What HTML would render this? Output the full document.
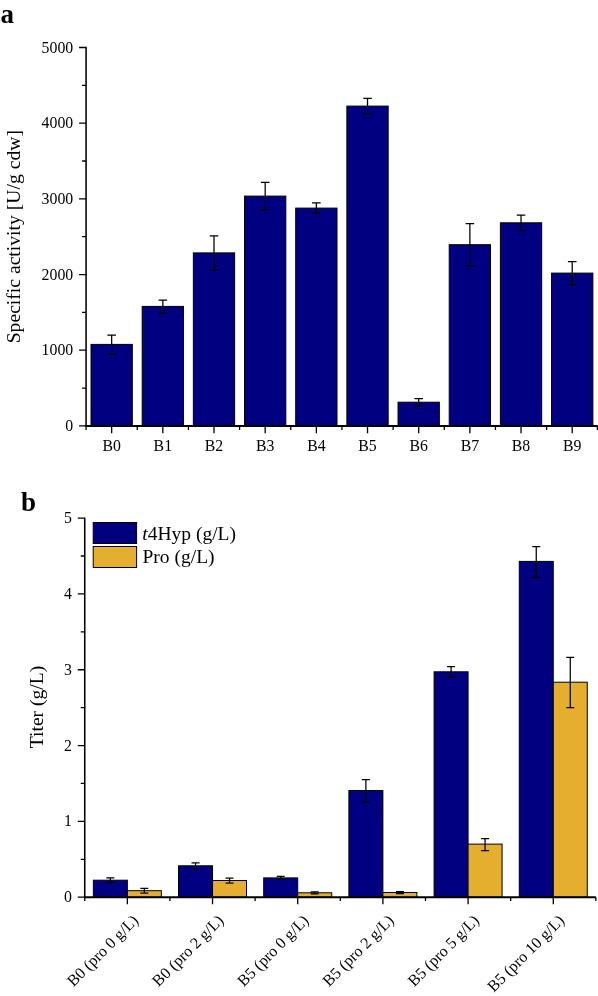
<!DOCTYPE html><html><head><meta charset="utf-8"><style>
html,body{margin:0;padding:0;background:#fff;}svg{display:block;will-change:transform;}
text{font-family:"Liberation Serif",serif;fill:#000;}
</style></head><body>
<svg width="598" height="996" viewBox="0 0 598 996">
<rect width="598" height="996" fill="#fff"/>
<text x="0.6" y="23.4" font-size="27" font-weight="bold">a</text>
<rect x="91.01" y="344.40" width="41.30" height="81.50" fill="#000080" stroke="#000" stroke-width="1.0"/>
<path d="M111.66 335.00V354.30M107.36 335.00h8.6M107.36 354.30h8.6" stroke="#000" stroke-width="1.25" fill="none"/>
<rect x="142.18" y="306.40" width="41.30" height="119.50" fill="#000080" stroke="#000" stroke-width="1.0"/>
<path d="M162.83 300.00V313.10M158.53 300.00h8.6M158.53 313.10h8.6" stroke="#000" stroke-width="1.25" fill="none"/>
<rect x="193.35" y="252.90" width="41.30" height="173.00" fill="#000080" stroke="#000" stroke-width="1.0"/>
<path d="M214.00 235.80V270.30M209.70 235.80h8.6M209.70 270.30h8.6" stroke="#000" stroke-width="1.25" fill="none"/>
<rect x="244.53" y="196.10" width="41.30" height="229.80" fill="#000080" stroke="#000" stroke-width="1.0"/>
<path d="M265.18 182.30V209.80M260.88 182.30h8.6M260.88 209.80h8.6" stroke="#000" stroke-width="1.25" fill="none"/>
<rect x="295.70" y="208.10" width="41.30" height="217.80" fill="#000080" stroke="#000" stroke-width="1.0"/>
<path d="M316.35 202.80V213.20M312.05 202.80h8.6M312.05 213.20h8.6" stroke="#000" stroke-width="1.25" fill="none"/>
<rect x="346.87" y="106.10" width="41.30" height="319.80" fill="#000080" stroke="#000" stroke-width="1.0"/>
<path d="M367.52 98.40V114.40M363.22 98.40h8.6M363.22 114.40h8.6" stroke="#000" stroke-width="1.25" fill="none"/>
<rect x="398.04" y="402.20" width="41.30" height="23.70" fill="#000080" stroke="#000" stroke-width="1.0"/>
<path d="M418.69 398.50V406.20M414.39 398.50h8.6M414.39 406.20h8.6" stroke="#000" stroke-width="1.25" fill="none"/>
<rect x="449.22" y="244.70" width="41.30" height="181.20" fill="#000080" stroke="#000" stroke-width="1.0"/>
<path d="M469.87 223.50V266.20M465.57 223.50h8.6M465.57 266.20h8.6" stroke="#000" stroke-width="1.25" fill="none"/>
<rect x="500.39" y="222.80" width="41.30" height="203.10" fill="#000080" stroke="#000" stroke-width="1.0"/>
<path d="M521.04 215.20V230.50M516.74 215.20h8.6M516.74 230.50h8.6" stroke="#000" stroke-width="1.25" fill="none"/>
<rect x="551.56" y="273.10" width="41.30" height="152.80" fill="#000080" stroke="#000" stroke-width="1.0"/>
<path d="M572.21 261.50V284.80M567.91 261.50h8.6M567.91 284.80h8.6" stroke="#000" stroke-width="1.25" fill="none"/>
<path d="M86.07 46.8V425.9" stroke="#000" stroke-width="1.55" fill="none"/>
<path d="M85.36999999999999 425.9H597.8" stroke="#000" stroke-width="2.0" fill="none"/>
<path d="M79.07 425.90H86.07M82.07 388.06H86.07M79.07 350.22H86.07M82.07 312.38H86.07M79.07 274.54H86.07M82.07 236.70H86.07M79.07 198.86H86.07M82.07 161.02H86.07M79.07 123.18H86.07M82.07 85.34H86.07M79.07 47.50H86.07" stroke="#000" stroke-width="1.3" fill="none"/>
<text x="73.2" y="431.00" font-size="15.8" text-anchor="end">0</text>
<text x="73.2" y="355.32" font-size="15.8" text-anchor="end">1000</text>
<text x="73.2" y="279.64" font-size="15.8" text-anchor="end">2000</text>
<text x="73.2" y="203.96" font-size="15.8" text-anchor="end">3000</text>
<text x="73.2" y="128.28" font-size="15.8" text-anchor="end">4000</text>
<text x="73.2" y="52.60" font-size="15.8" text-anchor="end">5000</text>
<path d="M111.66 425.9V433.29999999999995M162.83 425.9V433.29999999999995M214.00 425.9V433.29999999999995M265.18 425.9V433.29999999999995M316.35 425.9V433.29999999999995M367.52 425.9V433.29999999999995M418.69 425.9V433.29999999999995M469.87 425.9V433.29999999999995M521.04 425.9V433.29999999999995M572.21 425.9V433.29999999999995M86.07 425.9V429.9M137.24 425.9V429.9M188.42 425.9V429.9M239.59 425.9V429.9M290.76 425.9V429.9M341.93 425.9V429.9M393.11 425.9V429.9M444.28 425.9V429.9M495.45 425.9V429.9M546.63 425.9V429.9M597.40 425.9V429.9" stroke="#000" stroke-width="1.3" fill="none"/>
<text x="111.66" y="450.6" font-size="15.8" text-anchor="middle">B0</text>
<text x="162.83" y="450.6" font-size="15.8" text-anchor="middle">B1</text>
<text x="214.00" y="450.6" font-size="15.8" text-anchor="middle">B2</text>
<text x="265.18" y="450.6" font-size="15.8" text-anchor="middle">B3</text>
<text x="316.35" y="450.6" font-size="15.8" text-anchor="middle">B4</text>
<text x="367.52" y="450.6" font-size="15.8" text-anchor="middle">B5</text>
<text x="418.69" y="450.6" font-size="15.8" text-anchor="middle">B6</text>
<text x="469.87" y="450.6" font-size="15.8" text-anchor="middle">B7</text>
<text x="521.04" y="450.6" font-size="15.8" text-anchor="middle">B8</text>
<text x="572.21" y="450.6" font-size="15.8" text-anchor="middle">B9</text>
<text transform="translate(19.9 236.7) rotate(-90)" font-size="19.65" text-anchor="middle">Specific activity [U/g cdw]</text>
<text x="21" y="510.5" font-size="27" font-weight="bold">b</text>
<rect x="93.34" y="880.20" width="34.00" height="17.00" fill="#000080" stroke="#000" stroke-width="1.0"/>
<rect x="127.34" y="890.70" width="34.00" height="6.50" fill="#E6AE2E" stroke="#000" stroke-width="1.0"/>
<path d="M110.34 877.90V882.40M106.34 877.90h8M106.34 882.40h8" stroke="#000" stroke-width="1.25" fill="none"/>
<path d="M144.34 888.30V893.10M140.34 888.30h8M140.34 893.10h8" stroke="#000" stroke-width="1.25" fill="none"/>
<rect x="178.53" y="865.80" width="34.00" height="31.40" fill="#000080" stroke="#000" stroke-width="1.0"/>
<rect x="212.53" y="880.50" width="34.00" height="16.70" fill="#E6AE2E" stroke="#000" stroke-width="1.0"/>
<path d="M195.53 862.80V868.80M191.53 862.80h8M191.53 868.80h8" stroke="#000" stroke-width="1.25" fill="none"/>
<path d="M229.53 878.00V883.00M225.53 878.00h8M225.53 883.00h8" stroke="#000" stroke-width="1.25" fill="none"/>
<rect x="263.71" y="877.90" width="34.00" height="19.30" fill="#000080" stroke="#000" stroke-width="1.0"/>
<rect x="297.71" y="892.80" width="34.00" height="4.40" fill="#E6AE2E" stroke="#000" stroke-width="1.0"/>
<path d="M280.71 876.30V879.40M276.71 876.30h8M276.71 879.40h8" stroke="#000" stroke-width="1.25" fill="none"/>
<path d="M314.71 891.90V893.90M310.71 891.90h8M310.71 893.90h8" stroke="#000" stroke-width="1.25" fill="none"/>
<rect x="348.89" y="790.50" width="34.00" height="106.70" fill="#000080" stroke="#000" stroke-width="1.0"/>
<rect x="382.89" y="892.50" width="34.00" height="4.70" fill="#E6AE2E" stroke="#000" stroke-width="1.0"/>
<path d="M365.89 779.50V802.20M361.89 779.50h8M361.89 802.20h8" stroke="#000" stroke-width="1.25" fill="none"/>
<path d="M399.89 891.50V893.50M395.89 891.50h8M395.89 893.50h8" stroke="#000" stroke-width="1.25" fill="none"/>
<rect x="434.08" y="671.80" width="34.00" height="225.40" fill="#000080" stroke="#000" stroke-width="1.0"/>
<rect x="468.08" y="844.10" width="34.00" height="53.10" fill="#E6AE2E" stroke="#000" stroke-width="1.0"/>
<path d="M451.08 666.60V677.40M447.08 666.60h8M447.08 677.40h8" stroke="#000" stroke-width="1.25" fill="none"/>
<path d="M485.08 838.50V850.50M481.08 838.50h8M481.08 850.50h8" stroke="#000" stroke-width="1.25" fill="none"/>
<rect x="519.26" y="561.40" width="34.00" height="335.80" fill="#000080" stroke="#000" stroke-width="1.0"/>
<rect x="553.26" y="682.20" width="34.00" height="215.00" fill="#E6AE2E" stroke="#000" stroke-width="1.0"/>
<path d="M536.26 546.50V577.40M532.26 546.50h8M532.26 577.40h8" stroke="#000" stroke-width="1.25" fill="none"/>
<path d="M570.26 657.30V707.60M566.26 657.30h8M566.26 707.60h8" stroke="#000" stroke-width="1.25" fill="none"/>
<path d="M84.75 517.4V897.2" stroke="#000" stroke-width="1.55" fill="none"/>
<path d="M84.05 897.2H595.85" stroke="#000" stroke-width="2.0" fill="none"/>
<path d="M77.75 897.20H84.75M80.75 859.29H84.75M77.75 821.38H84.75M80.75 783.47H84.75M77.75 745.56H84.75M80.75 707.65H84.75M77.75 669.74H84.75M80.75 631.83H84.75M77.75 593.92H84.75M80.75 556.01H84.75M77.75 518.10H84.75" stroke="#000" stroke-width="1.3" fill="none"/>
<text x="71.8" y="902.30" font-size="15.8" text-anchor="end">0</text>
<text x="71.8" y="826.48" font-size="15.8" text-anchor="end">1</text>
<text x="71.8" y="750.66" font-size="15.8" text-anchor="end">2</text>
<text x="71.8" y="674.84" font-size="15.8" text-anchor="end">3</text>
<text x="71.8" y="599.02" font-size="15.8" text-anchor="end">4</text>
<text x="71.8" y="523.20" font-size="15.8" text-anchor="end">5</text>
<path d="M127.34 897.2V904.2M212.53 897.2V904.2M297.71 897.2V904.2M382.89 897.2V904.2M468.08 897.2V904.2M553.26 897.2V904.2M84.75 897.2V900.9000000000001M169.93 897.2V900.9000000000001M255.12 897.2V900.9000000000001M340.30 897.2V900.9000000000001M425.48 897.2V900.9000000000001M510.67 897.2V900.9000000000001M595.85 897.2V900.9000000000001" stroke="#000" stroke-width="1.3" fill="none"/>
<text transform="translate(139.24 921.4) rotate(-45)" font-size="16.05" text-anchor="end">B0 (pro 0 g/L)</text>
<text transform="translate(224.43 921.4) rotate(-45)" font-size="16.05" text-anchor="end">B0 (pro 2 g/L)</text>
<text transform="translate(309.61 921.4) rotate(-45)" font-size="16.05" text-anchor="end">B5 (pro 0 g/L)</text>
<text transform="translate(394.79 921.4) rotate(-45)" font-size="16.05" text-anchor="end">B5 (pro 2 g/L)</text>
<text transform="translate(479.98 921.4) rotate(-45)" font-size="16.05" text-anchor="end">B5 (pro 5 g/L)</text>
<text transform="translate(565.16 921.4) rotate(-45)" font-size="16.05" text-anchor="end">B5 (pro 10 g/L)</text>
<text transform="translate(43.3 707.0) rotate(-90)" font-size="19.6" text-anchor="middle">Titer (g/L)</text>
<rect x="93.2" y="522.5" width="43.4" height="21.0" fill="#000080" stroke="#000" stroke-width="1.0"/>
<rect x="93.2" y="546.5" width="43.4" height="21.0" fill="#E6AE2E" stroke="#000" stroke-width="1.0"/>
<text x="142.2" y="540.4" font-size="19.55"><tspan font-style="italic">t</tspan>4Hyp (g/L)</text>
<text x="142.5" y="563.2" font-size="19.5">Pro (g/L)</text>
</svg></body></html>
